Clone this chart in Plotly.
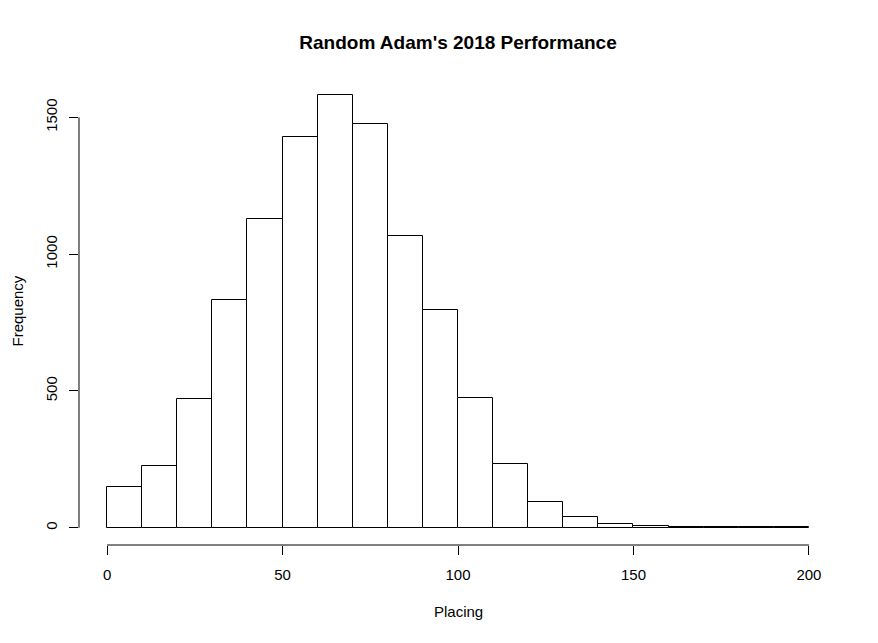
import plotly.graph_objects as go

# histogram of simulated placings, bins of width 10
bin_edges = [0, 10, 20, 30, 40, 50, 60, 70, 80, 90, 100,
             110, 120, 130, 140, 150, 160, 170, 180, 190, 200]
counts = [148, 225, 472, 832, 1128, 1428, 1581, 1476, 1065, 795,
          475, 234, 95, 40, 12, 5, 2, 1, 1, 1]

x_ticks = [0, 50, 100, 150, 200]
y_ticks = [0, 500, 1000, 1500]

centers = [(a + b) / 2 for a, b in zip(bin_edges[:-1], bin_edges[1:])]
widths = [b - a for a, b in zip(bin_edges[:-1], bin_edges[1:])]

FONT = "Liberation Sans, Arial, Helvetica, sans-serif"
# the page body adds an 8px margin, so the figure sits 8px right and down
PAGE_OFFSET = 8

fig = go.Figure(go.Bar(
    x=centers,
    y=counts,
    width=widths,
    marker=dict(color="white", line=dict(color="black", width=1)),
    showlegend=False,
))

# R-style detached axis lines, spanning only the tick range
fig.add_shape(type="line", xref="x", yref="paper",
              x0=x_ticks[0], x1=x_ticks[-1], y0=0, y1=0,
              line=dict(color="black", width=1))
fig.add_shape(type="line", xref="paper", yref="y",
              x0=0, x1=0, y0=y_ticks[0], y1=y_ticks[-1],
              line=dict(color="black", width=1))

fig.update_layout(
    width=878,
    height=643,
    margin=dict(l=79 - PAGE_OFFSET, r=41 + PAGE_OFFSET,
                t=78 - PAGE_OFFSET, b=98 + PAGE_OFFSET),
    paper_bgcolor="white",
    plot_bgcolor="white",
    font=dict(family=FONT, size=15, color="black"),
    title=dict(
        text="Random Adam's 2018 Performance",
        font=dict(family=FONT, size=19, weight="bold", color="black"),
        x=(458 - PAGE_OFFSET) / 878, xanchor="center",
        y=1 - (42 - PAGE_OFFSET) / 643, yanchor="middle",
    ),
    bargap=0,
    xaxis=dict(
        range=[-8, 208],
        tickvals=x_ticks,
        ticks="outside", ticklen=9, tickcolor="black", tickwidth=1,
        showgrid=False, zeroline=False, showline=False,
        ticklabelstandoff=7,
    ),
    yaxis=dict(
        range=[-63, 1644],
        tickvals=y_ticks,
        tickangle=-90,
        ticks="outside", ticklen=9, tickcolor="black", tickwidth=1,
        showgrid=False, zeroline=False, showline=False,
        ticklabelstandoff=6,
    ),
    annotations=[
        dict(text="Placing", xref="paper", yref="paper", x=0.5, y=0,
             xanchor="center", yanchor="middle", yshift=-66,
             showarrow=False, font=dict(family=FONT, size=15)),
        dict(text="Frequency", xref="paper", yref="paper", x=0, y=0.5,
             xanchor="center", yanchor="middle", xshift=-62, textangle=-90,
             showarrow=False, font=dict(family=FONT, size=15)),
    ],
)

fig.write_html("out.html")
